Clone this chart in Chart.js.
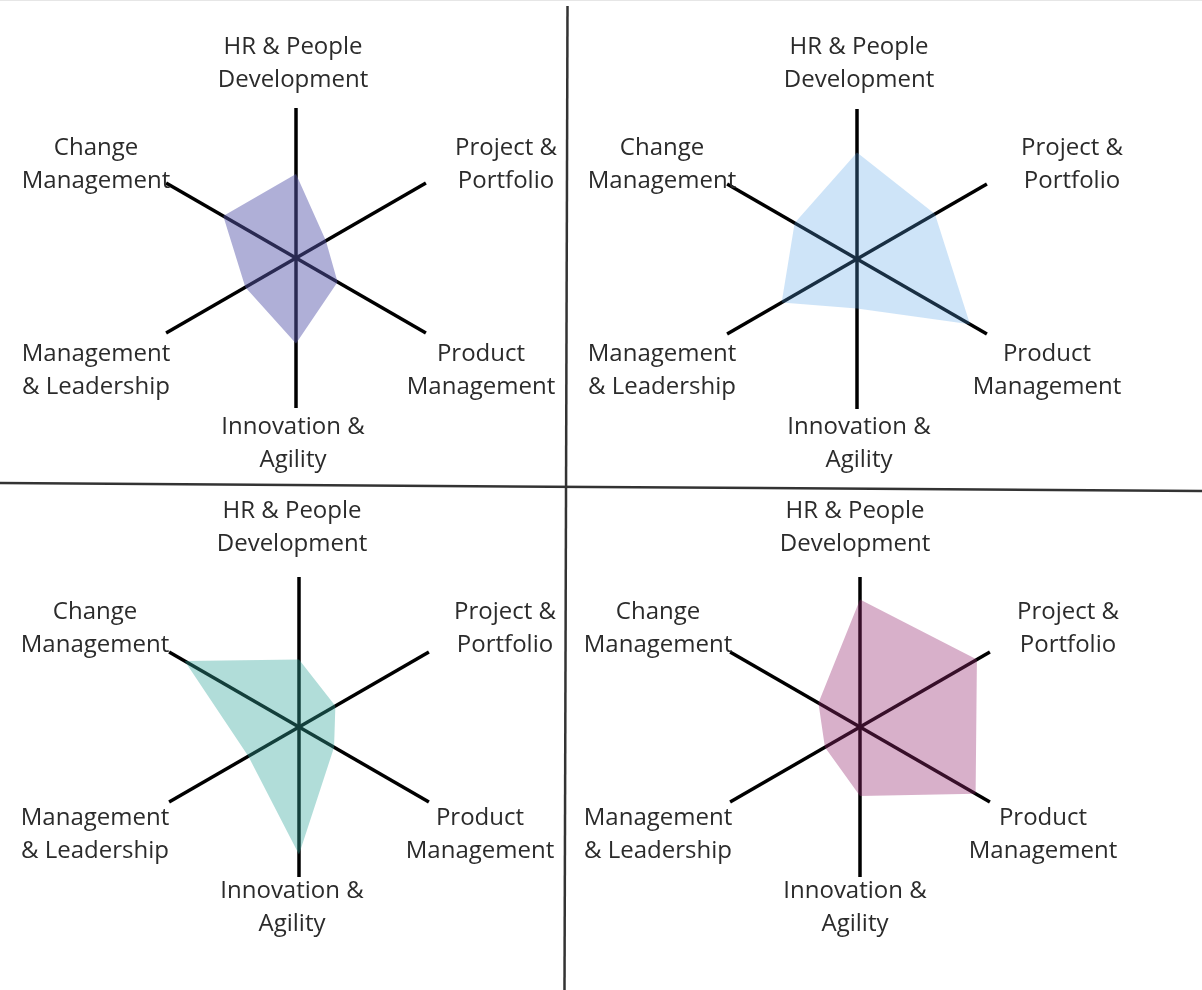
<!DOCTYPE html>
<html>
<head>
<meta charset="utf-8">
<script src="https://cdn.jsdelivr.net/npm/chart.js@4.4.1/dist/chart.umd.min.js"></script>
<style>
    body { margin: 0; background: #fff; }
    #page { position: relative; width: 1202px; height: 990px; overflow: hidden; border-top: 1px solid #e6e6e6; box-sizing: border-box; }
    #page canvas, #page svg { position: absolute; left: 0; top: 0; }
</style>
</head>
<body>
<div id="page">
    <canvas id="radar-1" width="1202" height="990"></canvas>
    <canvas id="radar-2" width="1202" height="990"></canvas>
    <canvas id="radar-3" width="1202" height="990"></canvas>
    <canvas id="radar-4" width="1202" height="990"></canvas>
    <svg width="1202" height="990">
        <line x1="567.5" y1="5" x2="564.5" y2="990" stroke="#333" stroke-width="2.5"/>
        <line x1="0" y1="482" x2="1202" y2="490" stroke="#333" stroke-width="2.5"/>
    </svg>
</div>
<script>
// categories, clockwise from the top
const categories = [
    ['HR & People', 'Development'],
    ['Project &', 'Portfolio'],
    ['Product', 'Management'],
    ['Innovation &', 'Agility'],
    ['Management', '& Leadership'],
    ['Change', 'Management']
];

// scores on a 0-10 scale
const scoresTopLeft = [5.6, 2.3, 3.2, 5.7, 3.9, 5.6];
const scoresTopRight = [7.1, 6.0, 8.7, 3.3, 5.8, 4.8];
const scoresBottomLeft = [4.5, 2.8, 2.7, 8.5, 3.9, 8.8];
const scoresBottomRight = [8.5, 9.0, 8.9, 4.6, 2.7, 3.2];

const scaleMax = 10;

// layout / style
const radius = 150;
const pageW = 1202, pageH = 990;
const charts = [
    { id: 'radar-1', scores: scoresTopLeft, center: [296, 257], labelShift: [0, 4], fill: 'rgba(88, 88, 171, 0.48)' },
    { id: 'radar-2', scores: scoresTopRight, center: [857, 258], labelShift: [5, 3], fill: 'rgba(86, 162, 231, 0.29)' },
    { id: 'radar-3', scores: scoresBottomLeft, center: [299, 726], labelShift: [-4, -1], fill: 'rgba(50, 165, 155, 0.38)' },
    { id: 'radar-4', scores: scoresBottomRight, center: [860, 726], labelShift: [-2, -1], fill: 'rgba(150, 40, 110, 0.37)' }
];
// centre of each label block, relative to the radar centre
const labelOffsets = [[-3, -198], [210, -97], [185, 109], [-3, 182], [-200, 109], [-200, -97]];

function makeLabelPlugin(shift) {
    return {
        id: 'axisLabels',
        afterDraw(chart) {
            const scale = chart.scales.r;
            const ctx = chart.ctx;
            ctx.save();
            ctx.font = '400 24px "Open Sans"';
            ctx.fillStyle = '#2b2b2b';
            ctx.textAlign = 'center';
            ctx.textBaseline = 'middle';
            categories.forEach((lines, i) => {
                const x = scale.xCenter + labelOffsets[i][0] + shift[0];
                const y = scale.yCenter + labelOffsets[i][1] + shift[1];
                lines.forEach((line, j) => {
                    ctx.fillText(line, x, y + (j - (lines.length - 1) / 2) * 33);
                });
            });
            ctx.restore();
        }
    };
}

function createRadar(cfg) {
    const ctx = document.getElementById(cfg.id).getContext('2d');
    new Chart(ctx, {
        type: 'radar',
        data: {
            labels: categories.map(l => l.join(' ')),
            datasets: [{
                data: cfg.scores,
                backgroundColor: cfg.fill,
                borderColor: 'transparent',
                borderWidth: 0,
                pointRadius: 0,
                fill: true
            }]
        },
        options: {
            responsive: false,
            animation: false,
            layout: {
                padding: {
                    left: cfg.center[0] - radius,
                    right: pageW - cfg.center[0] - radius,
                    top: cfg.center[1] - radius,
                    bottom: pageH - cfg.center[1] - radius
                }
            },
            scales: {
                r: {
                    min: 0,
                    max: scaleMax,
                    ticks: { display: false },
                    grid: { display: false },
                    pointLabels: { display: false },
                    angleLines: { color: '#000', lineWidth: 3.5 }
                }
            },
            plugins: {
                legend: { display: false },
                tooltip: { enabled: false }
            }
        },
        plugins: [makeLabelPlugin(cfg.labelShift)]
    });
}

document.fonts.load('24px "Open Sans"').then(() => {
    charts.forEach(createRadar);
});
</script>
</body>
</html>
